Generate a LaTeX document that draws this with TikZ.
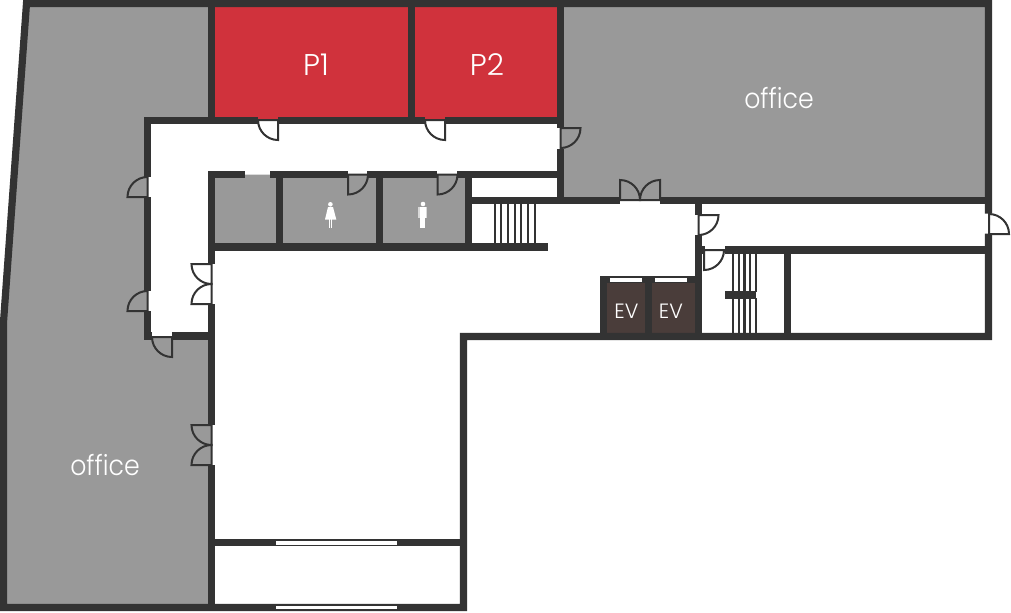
\documentclass[tikz,border=0pt]{standalone}
\usepackage{fontspec}
\setmainfont{Poppins Light}
\newfontfamily\officefont[FakeStretch=0.9]{Poppins Light}
\definecolor{wallc}{HTML}{333333}
\definecolor{roomc}{HTML}{999999}
\definecolor{redc}{HTML}{D0323C}
\definecolor{evc}{HTML}{4A3D3A}
\tikzset{
  wall/.style={draw=wallc,line width=5.4pt,line cap=butt,line join=miter},
  doorl/.style={draw=wallc,line width=1.5pt,line cap=butt,line join=miter},
  stairl/.style={draw=wallc,line width=1.6pt},
  bigtext/.style={text=white,inner sep=0pt,anchor=base,font=\fontsize{22.5}{23}\selectfont},
  officetext/.style={text=white,inner sep=0pt,anchor=base,font=\officefont\fontsize{21}{21}\selectfont},
  evtext/.style={text=white,inner sep=0pt,anchor=base,font=\fontsize{15.5}{16}\selectfont}
}
% door leaf: hinge position, start angle, end angle (radius 20)
\newcommand{\doorq}[4]{\draw[doorl] (#1,#2) -- ++(#3:20) arc[start angle=#3,end angle=#4,radius=20] -- cycle;}
\begin{document}
\begin{tikzpicture}[x=0.75pt,y=-0.75pt]
\useasboundingbox (0,0) rectangle (1011,612);
% floor fills
\fill[roomc] (26.5,3.5) -- (3.5,322) -- (3.5,607.5) -- (463.5,607.5) -- (463.5,336.5) -- (988.5,336.5) -- (988.5,3.5) -- cycle;
\fill[redc] (215,7) rectangle (408,120);
\fill[redc] (415,7) rectangle (557,120);
\fill[white] (147.5,120.5) -- (560.5,120.5) -- (560.5,174.5) -- (211,174.5) -- (211,336) -- (147.5,336) -- cycle;
\fill[white] (468,177) rectangle (560.5,200);
\fill[white] (211,247) -- (468,247) -- (468,200.5) -- (698,200.5) -- (698,336.5) -- (463.5,336.5) -- (463.5,607.5) -- (211,607.5) -- cycle;
\fill[white] (698,200.5) rectangle (988.5,336.5);
\fill[evc] (607,283) rectangle (645,333);
\fill[evc] (652,283) rectangle (695,333);
% outer walls
\draw[wall] (988.5,213.5) -- (988.5,3.5) -- (26.5,3.5) -- (3.5,322) -- (3.5,607.5) -- (463.5,607.5) -- (463.5,336.5) -- (988.5,336.5) -- (988.5,233.5);
% walls
\draw[wall] (211.5,0) -- (211.5,120);
\draw[wall] (411.5,0) -- (411.5,120);
\draw[wall] (560.5,0) -- (560.5,128);
\draw[wall] (560.5,149) -- (560.5,204);
\draw[wall] (258,120.5) -- (147.5,120.5) -- (147.5,177);
\draw[wall] (278,120.5) -- (425,120.5);
\draw[wall] (445,120.5) -- (561,120.5);
\draw[wall] (147.5,197) -- (147.5,291);
\draw[wall] (147.5,311) -- (147.5,336) -- (152,336);
\draw[wall] (172,336) -- (215,336);
\draw[wall] (245,174.5) -- (211.5,174.5) -- (211.5,264);
\draw[wall] (211.5,304) -- (211.5,425);
\draw[wall] (211.5,465) -- (211.5,607);
\draw[wall] (270,174.5) -- (348,174.5);
\draw[wall] (367,174.5) -- (437,174.5);
\draw[wall] (457,174.5) -- (558,174.5);
\draw[wall] (279.5,172) -- (279.5,247);
\draw[wall] (379.5,172) -- (379.5,247);
\draw[wall] (468.5,172) -- (468.5,247);
\draw[wall] (208,247) -- (548,247);
\draw[wall] (468,200.5) -- (620,200.5);
\draw[wall] (660,200.5) -- (988,200.5);
\draw[wall] (698.5,204) -- (698.5,215);
\draw[wall] (698.5,235) -- (698.5,336);
\draw[wall] (702,250) -- (705,250);
\draw[wall] (725,250) -- (988,250);
\draw[wall] (787.5,250) -- (787.5,336);
\draw[wall] (600,279.5) -- (698,279.5);
\draw[wall] (603.5,276) -- (603.5,336);
\draw[wall] (648.5,276) -- (648.5,336);
\draw[wall] (725,295) -- (756,295);
\draw[wall] (215,542.5) -- (274,542.5);
\draw[wall] (399,542.5) -- (460,542.5);
% glazed openings
\fill[wallc] (274,539) rectangle (399,546);
\fill[white] (276,541) rectangle (397,544.5);
\fill[wallc] (274,604) rectangle (399,611);
\fill[white] (276,606) rectangle (397,609);
\fill[white] (610,278) rectangle (642,282);
\fill[white] (655,278) rectangle (687,282);
% stairs
\foreach \sx in {494.7,501.3,508,514.7,521.3,528,534.7} \draw[stairl] (\sx,204) -- (\sx,243);
\foreach \sx in {733.3,739,744.5,750,755.7} {\draw[stairl] (\sx,253) -- (\sx,292); \draw[stairl] (\sx,298) -- (\sx,333);}
% single doors
\doorq{278}{120}{180}{90}
\doorq{445}{120}{180}{90}
\doorq{560.5}{128}{0}{90}
\doorq{147.5}{197}{180}{270}
\doorq{147.5}{311}{180}{270}
\doorq{172}{337}{180}{90}
\doorq{348}{174.5}{0}{90}
\doorq{437.5}{174.5}{0}{90}
\doorq{698.5}{215}{0}{90}
\doorq{704}{250}{0}{90}
\doorq{989}{234}{0}{-90}
% double doors
\doorq{211.5}{264}{180}{90}
\doorq{211.5}{304}{180}{270}
\doorq{211.5}{425}{180}{90}
\doorq{211.5}{465}{180}{270}
\doorq{620}{200}{270}{360}
\doorq{660}{200}{270}{180}
% woman
\fill[white] (330.4,204.3) circle[radius=2.3];
\fill[white] (328,207) -- (333,207) -- (336.3,219.5) -- (325,219.5) -- cycle;
\fill[white] (328.6,219) rectangle (330,228);
\fill[white] (331,219) rectangle (332.4,228);
% man
\fill[white] (423,204) circle[radius=2.3];
\fill[white!85!black] (418.2,207) rectangle (427.2,218);
\fill[white] (419.8,207) rectangle (425.6,218);
\fill[white] (420,217) rectangle (425.4,228);
% labels
\node[bigtext] (p1) at (316,75) {P1};
\node[bigtext] (p2) at (487,75) {P2};
\node[officetext] (office1) at (779,108) {office};
\node[officetext] (office2) at (105,475) {office};
\node[evtext] (ev1) at (626.5,318) {EV};
\node[evtext] (ev2) at (671,318) {EV};
\end{tikzpicture}
\end{document}
